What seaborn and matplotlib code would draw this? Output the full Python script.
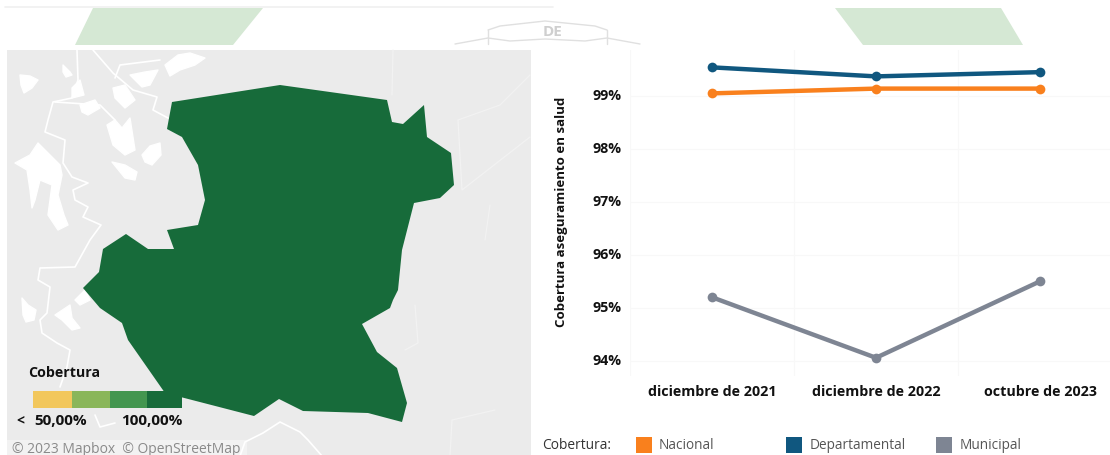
import matplotlib
matplotlib.use("Agg")
import matplotlib.pyplot as plt
from matplotlib.patches import Polygon, Rectangle
from matplotlib.transforms import ScaledTranslation
import pandas as pd
import seaborn as sns

# Coverage series
periods = ["diciembre de 2021", "diciembre de 2022", "octubre de 2023"]
nacional = [99.04, 99.13, 99.13]
departamental = [99.53, 99.36, 99.44]
municipal = [95.20, 94.06, 95.50]
series_names = ["Nacional", "Departamental", "Municipal"]
series_colors = ["#f9801d", "#10577f", "#7e8593"]
y_ticks = [94, 95, 96, 97, 98, 99]

# Municipality outline and basemap features, in map coordinates
municipio_x = [172, 280, 387, 392, 403, 424, 427, 451, 454, 440, 414, 402, 398, 393, 390, 362,
               377, 397, 407, 402, 368, 303, 279, 254, 165, 128, 122, 100, 83, 99, 103, 126,
               148, 174, 167, 198, 205, 198, 182, 167]
municipio_y = [102, 85, 100, 122, 124, 105, 137, 153, 185, 198, 203, 250, 290, 300, 308, 324,
               352, 368, 403, 422, 413, 411, 399, 416, 393, 340, 323, 308, 288, 272, 249, 234,
               249, 249, 230, 225, 200, 165, 137, 129]
lakes = [
    [(20, 75), (30, 76), (38, 80), (32, 88), (24, 93), (21, 85)],
    [(63, 65), (70, 72), (72, 75), (66, 77), (63, 72)],
    [(72, 88), (80, 80), (84, 95), (72, 98)],
    [(80, 105), (95, 100), (100, 108), (88, 115), (82, 112)],
    [(113, 88), (125, 85), (135, 100), (125, 108), (115, 98)],
    [(130, 75), (145, 72), (158, 70), (150, 85), (142, 87)],
    [(165, 65), (178, 55), (190, 53), (205, 58), (195, 65), (180, 70), (170, 76)],
    [(107, 125), (115, 120), (122, 128), (130, 118), (135, 150), (125, 155), (113, 145)],
    [(142, 155), (150, 146), (160, 143), (161, 155), (152, 165), (145, 162)],
    [(112, 162), (125, 165), (137, 172), (135, 180), (125, 178)],
    [(15, 163), (30, 155), (38, 143), (45, 150), (60, 165), (62, 175), (58, 195), (64, 215),
     (68, 225), (58, 230), (48, 215), (52, 185), (40, 180), (35, 200), (32, 208), (30, 190), (27, 170)],
    [(22, 298), (28, 305), (36, 310), (34, 320), (26, 322), (23, 315)],
    [(55, 315), (70, 305), (72, 318), (80, 328), (72, 330), (62, 320)],
    [(75, 300), (85, 290), (90, 300), (80, 305)],
]
rivers = [
    [(77, 50), (78, 80), (72, 98), (53, 102), (48, 120), (45, 132), (65, 140), (63, 163), (72, 177),
     (88, 183), (73, 190), (75, 200), (88, 207), (83, 217), (101, 225), (90, 240), (75, 267), (40, 268),
     (38, 280), (50, 287), (47, 313), (40, 320), (42, 333), (57, 343), (70, 350), (67, 367), (60, 387)],
    [(93, 50), (113, 73), (133, 90), (157, 97), (153, 110), (168, 118)],
    [(55, 102), (100, 105), (115, 120)],
    [(115, 78), (120, 65), (160, 60)],
    [(95, 415), (100, 427), (115, 423)],
    [(240, 456), (245, 442), (263, 433), (280, 422), (300, 432), (308, 440), (322, 456)],
]
faint_rivers = [
    [(393, 50), (392, 95)],
    [(458, 120), (500, 105), (530, 75)],
    [(458, 120), (462, 190), (530, 137)],
    [(485, 240), (490, 205)],
    [(415, 305), (418, 343), (405, 350)],
    [(450, 456), (452, 420), (495, 410)],
]

# Choropleth key
legend_colors = ["#f2c75c", "#8ab65a", "#43964f", "#176b3a"]
legend_edges = [33, 72, 110, 147, 182]

sns.set_style("white")
plt.rcParams["font.family"] = ["Open Sans", "DejaVu Sans"]

fig = plt.figure(figsize=(11.1, 4.56), dpi=100, facecolor="white")
W, H = 1110, 456

# Full-canvas layer for the banner, map and keys
bg = fig.add_axes([0, 0, 1, 1])
bg.set_xlim(0, W)
bg.set_ylim(H - 1, -1)
bg.axis("off")

# Banner
banner = "#d5e8d4"
bg.add_patch(Polygon([(93, 8), (263, 8), (233, 45), (75, 45)], fc=banner, ec="none"))
bg.add_patch(Polygon([(835, 8), (1001, 8), (1023, 45), (863, 45)], fc=banner, ec="none"))
bg.plot([5, 553], [6.5, 6.5], color="#f0f0f0", lw=1.2)
arc = "#e0e0e0"
bg.plot([488, 500, 545, 595, 607], [30, 26, 21, 26, 30], color=arc, lw=1)
bg.plot([455, 488, 510, 545, 585, 607, 640], [44, 38, 41, 39, 41, 38, 44], color=arc, lw=1)
bg.plot([488, 488], [30, 44], color=arc, lw=1)
bg.plot([607, 607], [30, 44], color=arc, lw=1)
bg.text(552, 31, "DE", ha="center", va="center", color="#cfcfcf", fontsize=11, fontweight="bold")

# Map
bg.add_patch(Rectangle((7, 50), 524, 407, fc="#ebebeb", ec="none"))
for river in faint_rivers:
    bg.plot(*zip(*river), color="#f2f2f2", lw=0.9)
for lake in lakes:
    bg.add_patch(Polygon(lake, fc="white", ec="white", lw=1, joinstyle="round"))
for river in rivers:
    bg.plot(*zip(*river), color="white", lw=1.2, solid_joinstyle="round")
bg.add_patch(Polygon(list(zip(municipio_x, municipio_y)), fc="#176b3a", ec="none"))

# Coverage key
bg.text(28, 372, "Cobertura", fontsize=10.2, fontweight="bold", color="#111111", va="center")
for i, c in enumerate(legend_colors):
    bg.add_patch(Rectangle((legend_edges[i], 391), legend_edges[i + 1] - legend_edges[i], 17, fc=c, ec="none"))
bg.text(16, 419, "<", fontsize=10, fontweight="bold", color="#111111", va="center")
bg.text(34, 420, "50,00%", fontsize=11, fontweight="bold", color="#111111", va="center")
bg.text(182, 420, "100,00%", fontsize=11, fontweight="bold", color="#111111", va="center", ha="right")
bg.add_patch(Rectangle((7, 440), 240, 17, fc="#f2f2f2", ec="none"))
bg.text(12, 448.5, "© 2023 Mapbox  © OpenStreetMap", fontsize=10, color="#8a8a8a", va="center")

# Series key
bg.text(542, 445, "Cobertura:", fontsize=9.9, color="#333333", va="center")
for x0, xt, name, c in zip([636, 786, 936], [659, 810, 960], series_names, series_colors):
    bg.add_patch(Rectangle((x0, 437), 16, 16, fc=c, ec="none"))
    bg.text(xt, 445, name, fontsize=9.8, color="#555555", va="center")

# Line chart
left, right, top, bottom = 630, 1110, 51, 377
ax = fig.add_axes([left / W, 1 - bottom / H, (right - left) / W, (bottom - top) / H])
ax.patch.set_alpha(0)
df = pd.DataFrame({
    "periodo": periods * 3,
    "pos": [0, 1, 2] * 3,
    "serie": sum([[n] * 3 for n in series_names], []),
    "cobertura": nacional + departamental + municipal,
})
sns.lineplot(data=df, x="pos", y="cobertura", hue="serie", hue_order=series_names,
             palette=series_colors, marker="o", markersize=7, markeredgewidth=0,
             linewidth=3.2, legend=False, ax=ax, zorder=3)
ax.set_xlim(-0.5, 2.427)
ax.set_ylim(93.717, 99.857)
ax.set_xticks([0, 1, 2], periods)
ax.set_yticks(y_ticks, [f"{v}%" for v in y_ticks])
ax.tick_params(axis="both", length=0, labelsize=10.3, labelcolor="#111111")
ax.tick_params(axis="y", pad=6)
ax.tick_params(axis="x", pad=6)
for t in ax.get_xticklabels() + ax.get_yticklabels():
    t.set_fontweight("bold")
lift = ScaledTranslation(0, 2.5 / 100, fig.dpi_scale_trans)
for t in ax.get_yticklabels():
    t.set_transform(t.get_transform() + lift)
for s in ax.spines.values():
    s.set_visible(False)
ax.set_xlabel("")
ax.set_ylabel("")
grid = "#f8f8f8"
for v in y_ticks:
    ax.axhline(v, color=grid, lw=0.9, zorder=0)
for v in [-0.5, 0.5, 1.5]:
    ax.axvline(v, color=grid, lw=0.9, zorder=0)
bg.text(561, 211, "Cobertura aseguramiento en salud", rotation=90, ha="center", va="center",
        fontsize=9.5, fontweight="bold", color="#111111")

fig.savefig("out.png", dpi=100, facecolor="white")
